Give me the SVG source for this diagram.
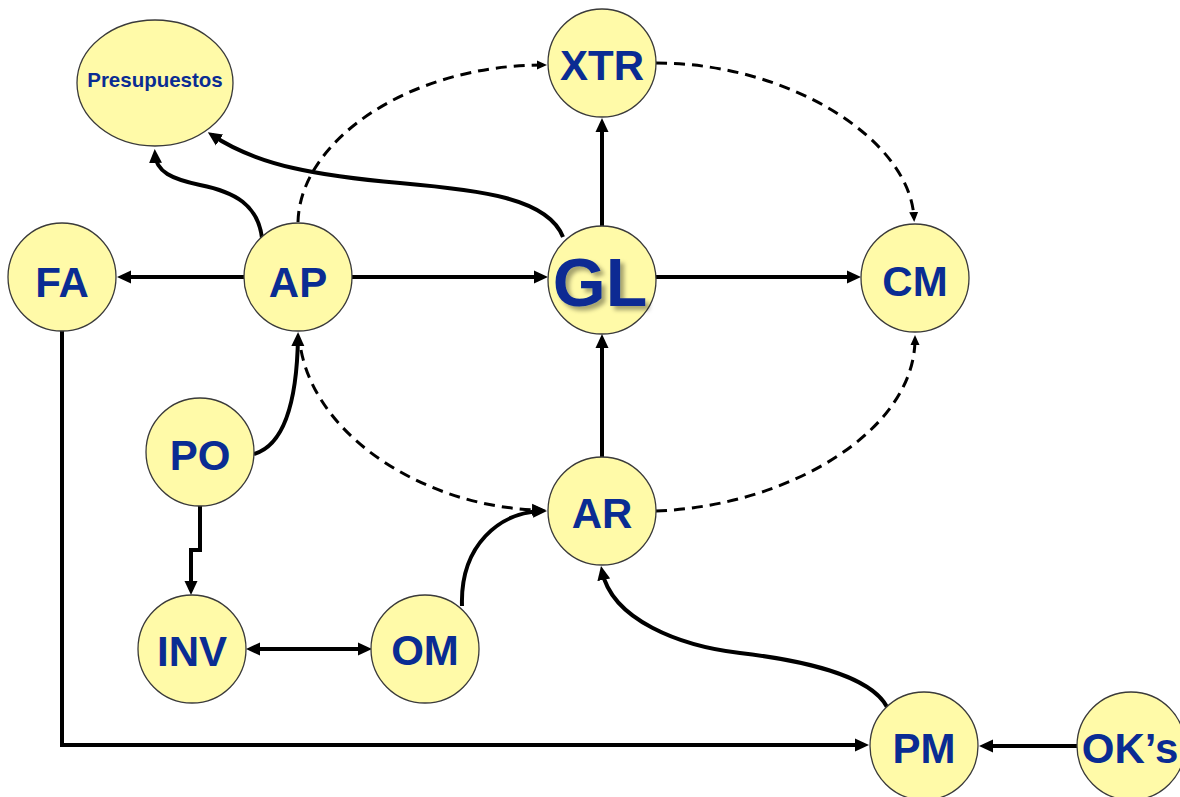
<svg xmlns="http://www.w3.org/2000/svg" width="1180" height="797" viewBox="0 0 1180 797">
  <style>
    .node { fill: #fffaa8; stroke: #3a3a3a; stroke-width: 1.3; }
    .lbl { font-family: "Liberation Sans", Arial, sans-serif; font-weight: bold; font-size: 42px; fill: #0a2c93; text-anchor: middle; }
    .solid { fill: none; stroke: #000; stroke-width: 4; }
    .dash { fill: none; stroke: #000; stroke-width: 3; stroke-dasharray: 11 7; }
  </style>
  <defs>
    <marker id="arr" markerUnits="userSpaceOnUse" markerWidth="16" markerHeight="14" refX="9" refY="7" orient="auto-start-reverse">
      <path d="M0,0.5 L14,7 L0,13.5 z" fill="#000"/>
    </marker>
    <marker id="arrd" markerUnits="userSpaceOnUse" markerWidth="12" markerHeight="10" refX="6" refY="5" orient="auto">
      <path d="M0,0.5 L10,5 L0,9.5 z" fill="#000"/>
    </marker>
    <marker id="arrdl" markerUnits="userSpaceOnUse" markerWidth="15" markerHeight="13" refX="8" refY="6.5" orient="auto">
      <path d="M0,0.5 L14,6.5 L0,12.5 z" fill="#000"/>
    </marker>
    <filter id="shadow" x="-20%" y="-20%" width="140%" height="140%">
      <feGaussianBlur in="SourceAlpha" stdDeviation="2"/>
      <feOffset dx="4" dy="4" result="b"/>
      <feFlood flood-color="#000" flood-opacity="0.35"/>
      <feComposite in2="b" operator="in"/>
      <feMerge><feMergeNode/><feMergeNode in="SourceGraphic"/></feMerge>
    </filter>
  </defs>

  <rect width="1180" height="797" fill="#fff"/>

  <!-- connectors -->
  <g id="connectors">
    <!-- dashed loop through XTR, CM, AR and AP -->
    <path class="dash" d="M298,222 C300,140 410,65 543,65" marker-end="url(#arrd)"/>
    <path class="dash" d="M656,63 C790,63 910,140 914,218" marker-end="url(#arrd)"/>
    <path class="dash" d="M656,511 C790,506 915,430 915,339" marker-end="url(#arrd)"/>
    <path class="dash" d="M301,350 C318,440 430,508 540,510" marker-end="url(#arrdl)"/>

    <!-- straight links -->
    <path class="solid" d="M244,277 H122" marker-end="url(#arr)"/>
    <path class="solid" d="M352,277 H543" marker-end="url(#arr)"/>
    <path class="solid" d="M656,277 H856" marker-end="url(#arr)"/>
    <path class="solid" d="M602,227 V123" marker-end="url(#arr)"/>
    <path class="solid" d="M602,457 V339" marker-end="url(#arr)"/>
    <path class="solid" d="M1077,746 H984" marker-end="url(#arr)"/>
    <path class="solid" d="M62,331 V745 H864" marker-end="url(#arr)"/>
    <path class="solid" d="M251,649 H367" marker-start="url(#arr)" marker-end="url(#arr)"/>
    <path class="solid" d="M200,506 V550 H191 V590" marker-end="url(#arr)"/>

    <!-- curved links -->
    <path class="solid" d="M262,238 C258,205 235,192 200,185 C172,179 156,172 155,154" marker-end="url(#arr)"/>
    <path class="solid" d="M563,237 C548,198 480,190 400,183 C320,176 258,166 212,135" marker-end="url(#arr)"/>
    <path class="solid" d="M254,454 C285,445 297,400 298,337" marker-end="url(#arr)"/>
    <path class="solid" d="M462,606 C460,545 500,512 542,511" marker-end="url(#arr)"/>
    <path class="solid" d="M887,707 C870,675 800,660 740,653 C680,646 612,620 602,571" marker-end="url(#arr)"/>
  </g>

  <!-- nodes -->
  <g id="presupuestos">
    <ellipse class="node" cx="155" cy="83" rx="78" ry="63"/>
    <text class="lbl" x="155" y="87" style="font-size:20.5px">Presupuestos</text>
  </g>
  <g id="xtr">
    <circle class="node" cx="602" cy="63" r="54"/>
    <text class="lbl" x="602" y="80">XTR</text>
  </g>
  <g id="fa">
    <circle class="node" cx="62" cy="277" r="54"/>
    <text class="lbl" x="62" y="297">FA</text>
  </g>
  <g id="ap">
    <circle class="node" cx="298" cy="277" r="54"/>
    <text class="lbl" x="298" y="297">AP</text>
  </g>
  <g id="gl">
    <circle class="node" cx="602" cy="280" r="54"/>
    <text class="lbl" x="600" y="306" style="font-size:68px" filter="url(#shadow)">GL</text>
  </g>
  <g id="cm">
    <circle class="node" cx="915" cy="278" r="54"/>
    <text class="lbl" x="915" y="296">CM</text>
  </g>
  <g id="po">
    <circle class="node" cx="200" cy="452" r="54"/>
    <text class="lbl" x="200" y="470">PO</text>
  </g>
  <g id="ar">
    <circle class="node" cx="602" cy="511" r="54"/>
    <text class="lbl" x="602" y="528">AR</text>
  </g>
  <g id="inv">
    <circle class="node" cx="192" cy="649" r="54"/>
    <text class="lbl" x="192" y="666">INV</text>
  </g>
  <g id="om">
    <circle class="node" cx="425" cy="649" r="54"/>
    <text class="lbl" x="425" y="665">OM</text>
  </g>
  <g id="pm">
    <circle class="node" cx="924" cy="746" r="54"/>
    <text class="lbl" x="924" y="763">PM</text>
  </g>
  <g id="oks">
    <circle class="node" cx="1131" cy="746" r="54"/>
    <text class="lbl" x="1130" y="763">OK’s</text>
  </g>
</svg>
